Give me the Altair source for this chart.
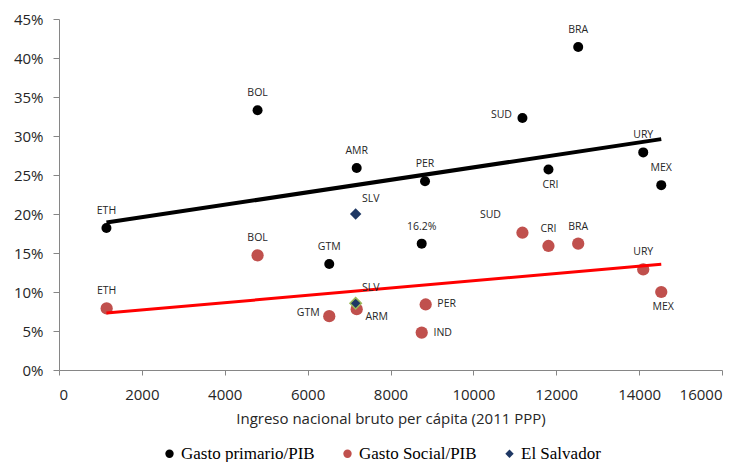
import altair as alt
import pandas as pd

# ---- data ----
series_names = ["Gasto primario/PIB", "Gasto Social/PIB", "El Salvador"]

labels_p = ["ETH", "BOL", "GTM", "AMR", "16.2%", "PER", "SUD", "CRI", "BRA", "URY", "MEX"]
gni_p = [1145, 4792, 6522, 7184, 8753, 8833, 11184, 11812, 12530, 14099, 14534]
gasto_p = [0.182, 0.333, 0.136, 0.259, 0.162, 0.242, 0.323, 0.257, 0.414, 0.279, 0.237]
pos_p = ["above", "above", "above", "above", "above", "above", "left", "below", "above", "above", "above"]

labels_s = ["ETH", "BOL", "GTM", "ARM", "IND", "PER", "SUD", "CRI", "BRA", "URY", "MEX"]
gni_s = [1150, 4792, 6522, 7184, 8753, 8849, 11184, 11812, 12530, 14099, 14534]
gasto_s = [0.079, 0.147, 0.069, 0.078, 0.048, 0.084, 0.176, 0.159, 0.162, 0.129, 0.100]
pos_s = ["above", "above", "left", "downright", "right", "right", "upleft", "above", "above", "above", "below"]

labels_slv = ["SLV", "SLV"]
gni_slv = [7159, 7159]
gasto_slv = [0.200, 0.0855]
kind_slv = ["primario", "social"]
pos_slv = ["upright", "upright"]

trend_x = [1145, 14534]
trend_p = [0.189, 0.296]
trend_s = [0.073, 0.1355]

x_ticks = [0, 2000, 4000, 6000, 8000, 10000, 12000, 14000, 16000]
y_ticks = [0, 0.05, 0.10, 0.15, 0.20, 0.25, 0.30, 0.35, 0.40, 0.45]

# ---- tables ----
df_p = pd.DataFrame({"gni": gni_p, "gasto": gasto_p, "label": labels_p, "pos": pos_p,
                     "series": series_names[0]})
df_s = pd.DataFrame({"gni": gni_s, "gasto": gasto_s, "label": labels_s, "pos": pos_s,
                     "series": series_names[1]})
df_slv = pd.DataFrame({"gni": gni_slv, "gasto": gasto_slv, "label": labels_slv, "pos": pos_slv,
                       "kind": kind_slv, "series": series_names[2]})
df_labels = pd.concat([df_p, df_s, df_slv.drop(columns=["kind"])], ignore_index=True)
df_tp = pd.DataFrame({"gni": trend_x, "gasto": trend_p})
df_ts = pd.DataFrame({"gni": trend_x, "gasto": trend_s})

axis_common = dict(grid=False, domainColor="#868686", tickColor="#868686",
                   labelFont="Open Sans", labelFontSize=15, labelColor="#262626",
                   titleFont="Open Sans", titleFontSize=15, titleFontWeight="normal",
                   titleColor="#262626")

X = alt.X("gni:Q", scale=alt.Scale(domain=[0, 16000], nice=False),
          axis=alt.Axis(values=x_ticks, format="d", tickSize=5, labelPadding=12,
                        titlePadding=9, title="Ingreso nacional bruto per cápita (2011 PPP)",
                        **axis_common))
Y = alt.Y("gasto:Q", scale=alt.Scale(domain=[0, 0.45], nice=False),
          axis=alt.Axis(values=y_ticks, format=".0%", tickSize=6, labelPadding=10,
                        title=None, **axis_common))

legend = alt.Legend(title=None, orient="none", legendX=102, legendY=426,
                    direction="horizontal", columns=3, labelFont="Liberation Serif",
                    labelFontSize=17, labelColor="#000000", symbolSize=70,
                    columnPadding=24, labelOffset=3, symbolStrokeWidth=0)
color = alt.Color("series:N", scale=alt.Scale(domain=series_names,
                                               range=["#000000", "#C0504D", "#1F3864"]),
                  legend=legend)
shape = alt.Shape("series:N", scale=alt.Scale(domain=series_names,
                                               range=["circle", "circle", "diamond"]),
                  legend=legend)

pts_p = alt.Chart(df_p).mark_point(filled=True, opacity=1, size=100).encode(
    x=X, y=Y, color=color, shape=shape)
pts_s = alt.Chart(df_s).mark_point(filled=True, opacity=1, size=150).encode(
    x=X, y=Y, color=color, shape=shape)
pts_slv = alt.Chart(df_slv).mark_point(filled=True, opacity=1, size=130).encode(
    x=X, y=Y, color=color, shape=shape)
slv_outline = alt.Chart(df_slv).transform_filter(alt.datum.kind == "social").mark_point(
    filled=False, shape="diamond", size=130, color="#9BBB59", strokeWidth=1.5, opacity=1
).encode(x=X, y=Y)

line_p = alt.Chart(df_tp).mark_line(color="#000000", strokeWidth=4).encode(x=X, y=Y)
line_s = alt.Chart(df_ts).mark_line(color="#FF0000", strokeWidth=3).encode(x=X, y=Y)

offsets = {"above": (0, -17), "below": (2, 15), "left": (-21, -3), "right": (21, 0),
           "downright": (20, 8), "upleft": (-32, -18), "upright": (15, -15)}
text_layers = []
for pos, (dx, dy) in offsets.items():
    text_layers.append(
        alt.Chart(df_labels).transform_filter(alt.datum.pos == pos).mark_text(
            dx=dx, dy=dy, font="Open Sans", fontSize=10.5, color="#262626",
            align="center", baseline="middle"
        ).encode(x=X, y=Y, text="label:N")
    )

chart = alt.layer(pts_p, pts_s, pts_slv, slv_outline, line_p, line_s, *text_layers).properties(
    width=663, height=351,
    autosize=alt.AutoSizeParams(type="none"),
    padding={"left": 51, "top": 11, "right": 17, "bottom": 92},
).configure_view(stroke=None)

chart.save("out.html", embed_options={"renderer": "svg", "actions": False})
